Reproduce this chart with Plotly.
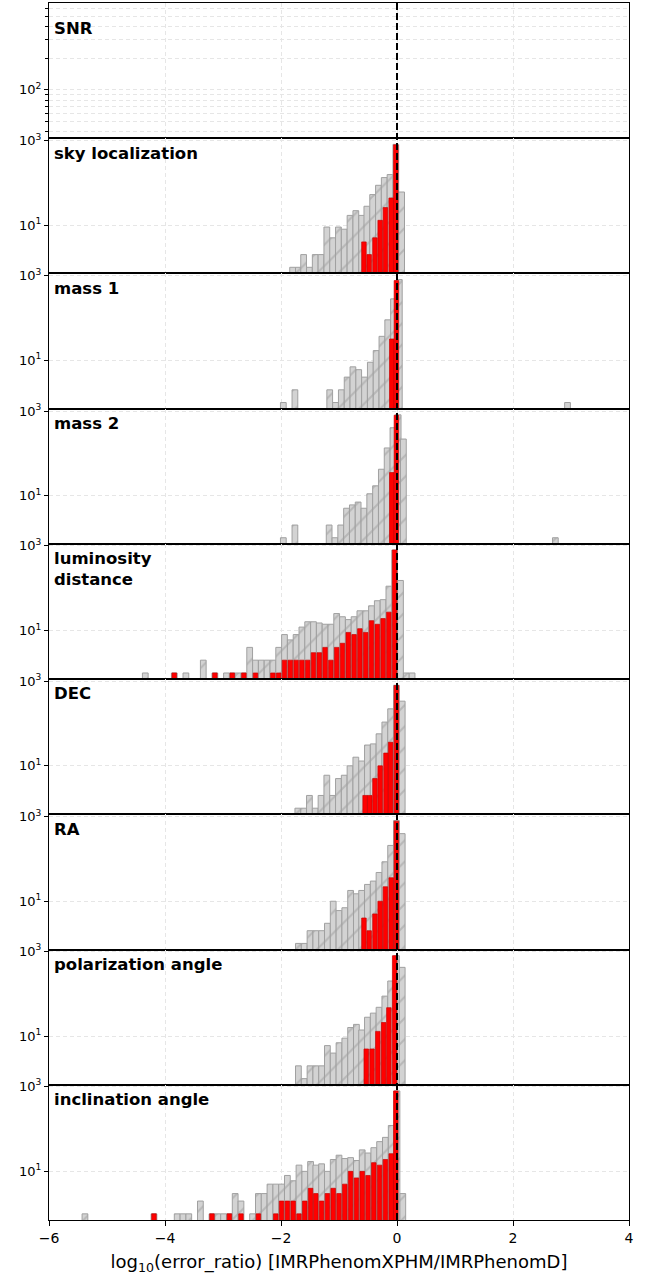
import plotly.graph_objects as go
import numpy as np

panel_names = ["SNR", "sky localization", "mass 1", "mass 2", "luminosity<br>distance",
               "DEC", "RA", "polarization angle", "inclination angle"]

# ---- SNR (no visible bars) ----
snr_gx, snr_gy = [], []
snr_rx, snr_ry = [], []

# ---- sky localization ----
sky_gx = [-1.80, -1.70, -1.61, -1.51, -1.41, -1.31, -1.21, -1.11, -1.01, -0.91,
          -0.81, -0.71, -0.61, -0.52, -0.42, -0.32, -0.22, -0.12, -0.02, 0.08]
sky_gy = [1, 1, 2, 1, 2, 2, 9, 5, 9, 8, 17, 22, 17, 28, 53, 88, 134, 158, 822, 61]
sky_rx = [-0.57, -0.48, -0.38, -0.29, -0.20, -0.10, -0.02]
sky_ry = [4, 2, 5, 13, 26, 44, 800]

# ---- mass 1 ----
m1_gx = [-1.96, -1.76, -1.16, -1.06, -0.96, -0.86, -0.76, -0.66, -0.56, -0.46,
         -0.36, -0.26, -0.16, -0.06, 0.04, 2.94]
m1_gy = [1, 2, 2, 1, 2, 4, 7, 6, 4, 9, 17, 37, 91, 286, 818, 1]
m1_rx = [-0.09, -0.01]
m1_ry = [32, 776]

# ---- mass 2 ----
m2_gx = [-1.96, -1.76, -1.17, -1.07, -0.97, -0.87, -0.77, -0.67, -0.57, -0.47,
         -0.37, -0.27, -0.17, -0.07, 0.02, 0.11, 2.73]
m2_gy = [1, 2, 2, 1, 2, 5, 6, 7, 5, 11, 17, 42, 134, 404, 818, 218, 1]
m2_rx = [-0.09, -0.01]
m2_ry = [35, 800]

# ---- luminosity distance ----
ld_gx = [-4.34, -3.84, -3.64, -3.34, -3.14, -2.94, -2.84, -2.74, -2.64, -2.54,
         -2.44, -2.34, -2.24, -2.14, -2.04, -1.94, -1.84, -1.74, -1.64, -1.54,
         -1.44, -1.34, -1.24, -1.14, -1.04, -0.94, -0.84, -0.74, -0.64, -0.54,
         -0.44, -0.34, -0.24, -0.14, -0.04, 0.06, 0.16, 0.26]
ld_gy = [1, 1, 1, 2, 1, 1, 1, 1, 1, 4,
         2, 2, 2, 2, 4, 8, 6, 8, 12, 16,
         16, 15, 14, 14, 25, 21, 18, 21, 29, 29,
         38, 50, 53, 110, 780, 150, 1, 1]
ld_rx = [-3.84, -3.14, -2.84, -2.64, -2.44, -2.14, -2.04, -1.94, -1.84, -1.74,
         -1.64, -1.54, -1.44, -1.34, -1.24, -1.14, -1.04, -0.94, -0.84, -0.74,
         -0.64, -0.54, -0.44, -0.34, -0.24, -0.14, -0.04]
ld_ry = [1, 1, 1, 1, 1, 1, 1, 2, 2, 2,
         2, 2, 3, 3, 4, 2, 4, 5, 9, 8,
         11, 9, 17, 14, 19, 27, 780]

# ---- DEC ----
dec_gx = [-1.71, -1.61, -1.51, -1.41, -1.31, -1.21, -1.11, -1.01, -0.91, -0.81,
          -0.71, -0.61, -0.51, -0.41, -0.31, -0.21, -0.11, -0.01, 0.09]
dec_gy = [1, 1, 2, 1, 2, 6, 2, 5, 6, 10, 16, 13, 31, 33, 57, 108, 222, 800, 337]
dec_rx = [-0.55, -0.47, -0.38, -0.29, -0.19, -0.11, -0.01]
dec_ry = [2, 2, 5, 10, 20, 36, 790]

# ---- RA ----
ra_gx = [-1.70, -1.60, -1.50, -1.40, -1.30, -1.20, -1.10, -1.00, -0.90, -0.80,
         -0.70, -0.61, -0.51, -0.41, -0.31, -0.21, -0.11, -0.01, 0.09]
ra_gy = [1, 1, 2, 2, 2, 3, 10, 6, 7, 18, 15, 18, 25, 30, 48, 86, 210, 820, 400]
ra_rx = [-0.57, -0.48, -0.38, -0.29, -0.20, -0.10, -0.01]
ra_ry = [4, 2, 5, 10, 22, 36, 790]

# ---- polarization angle ----
pol_gx = [-1.70, -1.60, -1.50, -1.40, -1.30, -1.20, -1.10, -1.00, -0.90, -0.80,
          -0.70, -0.61, -0.51, -0.41, -0.31, -0.21, -0.11, -0.01, 0.09]
pol_gy = [2, 1, 2, 2, 2, 6, 4, 7, 9, 16, 19, 14, 28, 35, 48, 88, 200, 790, 420]
pol_rx = [-0.53, -0.43, -0.33, -0.23, -0.14, -0.04]
pol_ry = [5, 5, 13, 21, 47, 790]

# ---- inclination angle ----
inc_gx = [-5.38, -4.19, -3.79, -3.69, -3.59, -3.39, -3.19, -3.09, -2.99, -2.89,
          -2.79, -2.69, -2.49, -2.39, -2.29, -2.19, -2.09, -1.99, -1.89, -1.79,
          -1.69, -1.59, -1.49, -1.40, -1.30, -1.20, -1.10, -1.00, -0.90, -0.80,
          -0.70, -0.60, -0.50, -0.40, -0.30, -0.20, -0.10, 0.00, 0.10]
inc_gy = [1, 1, 1, 1, 1, 2, 1, 1, 1, 1,
          3, 2, 1, 3, 3, 5, 5, 5, 8, 6,
          14, 10, 17, 14, 15, 10, 19, 24, 20, 21,
          18, 32, 27, 36, 50, 63, 120, 780, 3]
inc_rx = [-4.19, -3.19, -2.89, -2.69, -2.39, -2.09, -1.99, -1.89, -1.79, -1.69,
          -1.59, -1.49, -1.40, -1.30, -1.20, -1.10, -1.00, -0.90, -0.80, -0.70,
          -0.60, -0.50, -0.40, -0.30, -0.20, -0.10, -0.02]
inc_ry = [1, 1, 1, 1, 1, 1, 2, 2, 2, 1,
          2, 4, 3, 2, 3, 4, 3, 5, 10, 7,
          10, 8, 16, 14, 19, 26, 780]

gray_x = [snr_gx, sky_gx, m1_gx, m2_gx, ld_gx, dec_gx, ra_gx, pol_gx, inc_gx]
gray_y = [snr_gy, sky_gy, m1_gy, m2_gy, ld_gy, dec_gy, ra_gy, pol_gy, inc_gy]
red_x = [snr_rx, sky_rx, m1_rx, m2_rx, ld_rx, dec_rx, ra_rx, pol_rx, inc_rx]
red_y = [snr_ry, sky_ry, m1_ry, m2_ry, ld_ry, dec_ry, ra_ry, pol_ry, inc_ry]

x_ticks = [-6, -4, -2, 0, 2, 4]
gray_w = 0.099
red_w = 0.078

FONT = "DejaVu Sans"
GRID = "#e6e6e6"
n = len(panel_names)
fig = go.Figure()
layout = dict(
    width=657, height=1275,
    margin=dict(l=49, r=28, t=3, b=55, pad=0, autoexpand=False),
    plot_bgcolor="white", paper_bgcolor="white",
    barmode="overlay", showlegend=False,
    font=dict(family=FONT, size=13, color="black"),
)
h = 1.0 / n
annotations = []
for i in range(n):
    k = i + 1
    xa = "x" if k == 1 else f"x{k}"
    ya = "y" if k == 1 else f"y{k}"
    gx, gy, rx, ry = gray_x[i], gray_y[i], red_x[i], red_y[i]
    if gx:
        fig.add_trace(go.Bar(
            x=gx, y=gy, width=gray_w, xaxis=xa, yaxis=ya,
            marker=dict(color="#d3d3d3", line=dict(color="#a0a0a0", width=1),
                        pattern=dict(shape="/", fgcolor="#9c9c9c", bgcolor="#d3d3d3",
                                     size=15, solidity=0.14)),
            hoverinfo="skip"))
    if rx:
        fig.add_trace(go.Bar(
            x=rx, y=ry, width=red_w, xaxis=xa, yaxis=ya,
            marker=dict(color="#ff0000", line=dict(color="#c80000", width=0.7)),
            hoverinfo="skip"))
    top = 1 - i * h
    bot = 1 - (i + 1) * h
    xname = "xaxis" if k == 1 else f"xaxis{k}"
    yname = "yaxis" if k == 1 else f"yaxis{k}"
    last = (i == n - 1)
    layout[xname] = dict(
        domain=[0, 1], anchor=ya, range=[-6, 4], automargin=False,
        tickvals=x_ticks, showticklabels=last,
        ticks="outside" if last else "", ticklen=5, tickcolor="black",
        showgrid=True, gridcolor=GRID, griddash="4px,3px", gridwidth=1,
        showline=True, mirror=True, linecolor="black", linewidth=1.2,
        zeroline=False,
        tickfont=dict(size=14),
    )
    if last:
        layout[xname]["title"] = dict(
            text="log<sub>10</sub>(error_ratio) [IMRPhenomXPHM/IMRPhenomD]",
            font=dict(size=18), standoff=10)
    if gy:
        ymax = max(gy + ry)
        L = np.log10(ymax)
        yr = [-0.05 * L, 1.05 * L]
        ydict = dict(tickvals=[10, 1000], ticktext=["10<sup>1</sup>", "10<sup>3</sup>"])
    else:
        yr = [1.538, 2.83]
        ydict = dict(tickvals=[100], ticktext=["10<sup>2</sup>"],
                     minor=dict(tickvals=[40, 50, 60, 70, 80, 90, 200, 300, 400, 500, 600],
                                ticks="outside", ticklen=2.5, tickcolor="black",
                                showgrid=True, gridcolor=GRID, griddash="4px,3px"))
    layout[yname] = dict(
        domain=[bot, top], anchor=xa, type="log", range=yr, automargin=False,
        ticks="outside", ticklen=4, tickcolor="black",
        showgrid=True, gridcolor=GRID, griddash="4px,3px",
        showline=True, mirror=True, linecolor="black", linewidth=1.2,
        zeroline=False, tickfont=dict(size=13),
        **ydict)
    annotations.append(dict(
        text=f"<b>{panel_names[i]}</b>", showarrow=False,
        xref=f"{xa} domain", yref=f"{ya} domain",
        x=0.005, y=(0.895 if i == 0 else 0.975), xanchor="left", yanchor="top",
        align="left", font=dict(size=16.5, family=FONT, color="black")))

layout["annotations"] = annotations
layout["shapes"] = [dict(type="line", xref="x", yref="paper", x0=0, x1=0, y0=0, y1=1,
                         line=dict(color="black", width=2, dash="7px,3px"))]
fig.update_layout(**layout)
fig.write_html("out.html")
